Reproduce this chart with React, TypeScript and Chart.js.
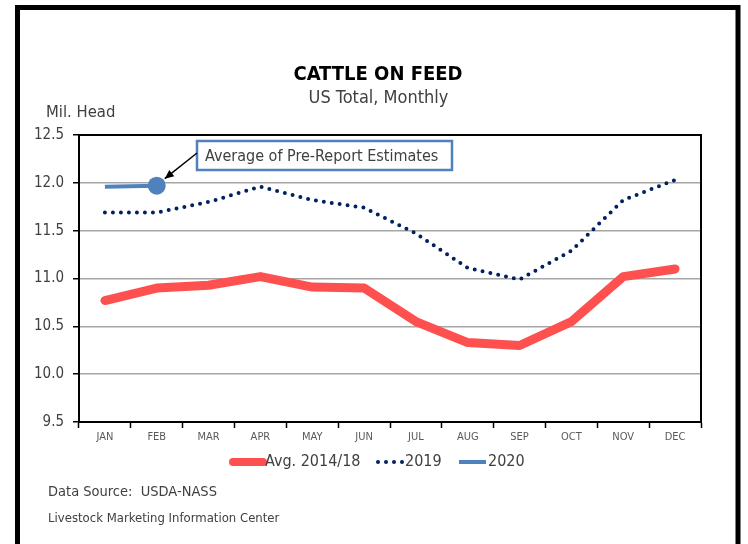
import React, { useEffect, useRef } from "react";
import { Chart, registerables } from "chart.js";

Chart.register(...registerables);

const months = ["JAN", "FEB", "MAR", "APR", "MAY", "JUN", "JUL", "AUG", "SEP", "OCT", "NOV", "DEC"];
const avg1418 = [10.77, 10.9, 10.93, 11.02, 10.91, 10.9, 10.55, 10.33, 10.3, 10.55, 11.02, 11.1];
const y2019 = [11.69, 11.69, 11.8, 11.96, 11.82, 11.74, 11.47, 11.11, 10.99, 11.29, 11.82, 12.03];
const y2020 = [11.96, 11.97, null, null, null, null, null, null, null, null, null, null];
const seriesNames = ["Avg. 2014/18", "2019", "2020"];
const titleText = "CATTLE ON FEED";
const subtitleText = "US Total, Monthly";
const unitText = "Mil. Head";
const annotationText = "Average of Pre-Report Estimates";
const sourceText = "Data Source:  USDA-NASS";
const creditText = "Livestock Marketing Information Center";

const FONT = "'Liberation Sans Narrow', 'Arial Narrow', 'DejaVu Sans Condensed', sans-serif";
const TXT = "#404040";

const extrasPlugin = {
  id: "extras",
  afterDraw(chart: any) {
    const ctx = chart.ctx;
    const ca = chart.chartArea;
    ctx.save();
    // plot frame top & right
    ctx.strokeStyle = "#000";
    ctx.lineWidth = 2;
    ctx.beginPath();
    ctx.moveTo(ca.left, ca.top);
    ctx.lineTo(ca.right, ca.top);
    ctx.lineTo(ca.right, ca.bottom);
    ctx.stroke();

    // outer frame
    ctx.lineWidth = 5;
    ctx.strokeRect(17.5, 7.5, 720.5, 600);

    // titles
    ctx.fillStyle = "#000";
    ctx.textAlign = "center";
    ctx.textBaseline = "middle";
    ctx.font = `bold 20px ${FONT}`;
    ctx.fillText(titleText, 378, 75);
    ctx.fillStyle = TXT;
    ctx.font = `18px ${FONT}`;
    ctx.fillText(subtitleText, 378.5, 98);
    ctx.textAlign = "left";
    ctx.font = `16.5px ${FONT}`;
    ctx.fillText(unitText, 46, 113);

    // footer
    ctx.font = `14.5px ${FONT}`;
    ctx.fillText(sourceText, 48, 492);
    ctx.font = `13px ${FONT}`;
    ctx.fillText(creditText, 48, 519);

    // legend
    const ds = chart.data.datasets;
    const items = [
      { sx: 233, ex: 263, tx: 265 },
      { sx: 378, ex: 404, tx: 405 },
      { sx: 459, ex: 486, tx: 488 },
    ];
    const ly = 462;
    ctx.font = `16px ${FONT}`;
    items.forEach((it, i) => {
      const d = ds[i];
      ctx.save();
      ctx.strokeStyle = d.borderColor;
      ctx.lineWidth = i === 0 ? 8 : d.borderWidth;
      ctx.lineCap = i === 0 ? "round" : d.borderCapStyle || "butt";
      ctx.setLineDash(d.borderDash || []);
      ctx.beginPath();
      ctx.moveTo(it.sx, ly);
      ctx.lineTo(it.ex, ly);
      ctx.stroke();
      ctx.restore();
      ctx.fillStyle = TXT;
      ctx.fillText(d.label, it.tx, ly);
    });

    // annotation box + arrow
    const bx = 197, by = 141, bw = 255, bh = 29;
    ctx.fillStyle = "#fff";
    ctx.fillRect(bx, by, bw, bh);
    ctx.strokeStyle = "#4F81BD";
    ctx.lineWidth = 2.5;
    ctx.strokeRect(bx, by, bw, bh);
    ctx.fillStyle = TXT;
    ctx.font = `16px ${FONT}`;
    ctx.fillText(annotationText, bx + 8, by + bh / 2 + 1);

    const xs = chart.scales.x;
    const ys = chart.scales.y;
    const px = xs.getPixelForValue(1);
    const py = ys.getPixelForValue(y2020[1] as number);
    const sx = bx, sy = by + 12;
    const ex = px + 8, ey = py - 7;
    ctx.strokeStyle = "#000";
    ctx.fillStyle = "#000";
    ctx.lineWidth = 1.5;
    ctx.beginPath();
    ctx.moveTo(sx, sy);
    ctx.lineTo(ex, ey);
    ctx.stroke();
    const ang = Math.atan2(ey - sy, ex - sx);
    const L = 9, W = 4;
    ctx.beginPath();
    ctx.moveTo(ex, ey);
    ctx.lineTo(ex - L * Math.cos(ang) + W * Math.sin(ang), ey - L * Math.sin(ang) - W * Math.cos(ang));
    ctx.lineTo(ex - L * Math.cos(ang) - W * Math.sin(ang), ey - L * Math.sin(ang) + W * Math.cos(ang));
    ctx.closePath();
    ctx.fill();
    ctx.restore();
  },
};

export default function App() {
  const ref = useRef<HTMLCanvasElement>(null);
  useEffect(() => {
    if (!ref.current) return;
    const chart = new Chart(ref.current, {
      type: "line",
      data: {
        labels: months,
        datasets: [
          {
            label: seriesNames[0],
            data: avg1418,
            borderColor: "#FF5050",
            backgroundColor: "#FF5050",
            borderWidth: 9,
            borderJoinStyle: "round",
            borderCapStyle: "round",
            pointRadius: 0,
            tension: 0,
          },
          {
            label: seriesNames[1],
            data: y2019,
            borderColor: "#002060",
            backgroundColor: "#002060",
            borderWidth: 4,
            borderDash: [0, 8],
            borderCapStyle: "round",
            pointRadius: 0,
            tension: 0,
          },
          {
            label: seriesNames[2],
            data: y2020,
            borderColor: "#4F81BD",
            backgroundColor: "#4F81BD",
            borderWidth: 4,
            pointRadius: [0, 9],
            pointHoverRadius: [0, 9],
            pointBorderWidth: 0,
            pointBackgroundColor: "#4F81BD",
            tension: 0,
          },
        ],
      },
      options: {
        responsive: false,
        devicePixelRatio: 1,
        animation: false,
        events: [],
        layout: { padding: { left: 0, top: 135, right: 47, bottom: 92 } },
        plugins: { legend: { display: false }, title: { display: false }, tooltip: { enabled: false } },
        scales: {
          x: {
            type: "category",
            offset: true,
            afterFit: (s: any) => { s.height = 30; },
            grid: { display: true, drawOnChartArea: false, offset: true, tickLength: 6, tickColor: "#000", tickWidth: 1.5 },
            border: { color: "#000", width: 2 },
            ticks: { color: "#595959", font: { family: FONT, size: 11 }, padding: 3, maxRotation: 0, autoSkip: false },
          },
          y: {
            min: 9.5,
            max: 12.5,
            afterFit: (s: any) => { s.width = 79; },
            grid: { color: "#A6A6A6", lineWidth: 1.5, tickLength: 6, tickColor: "#000", tickWidth: 1.5 },
            border: { color: "#000", width: 2 },
            ticks: {
              stepSize: 0.5,
              color: TXT,
              font: { family: FONT, size: 15 },
              padding: 9,
              callback: (v: any) => Number(v).toFixed(1),
            },
          },
        },
      },
      plugins: [extrasPlugin],
    });
    return () => chart.destroy();
  }, []);
  return (
    <div style={{ position: "absolute", left: 0, top: 0, width: 748, height: 544, background: "#fff" }}>
      <canvas ref={ref} width={748} height={544} style={{ display: "block", width: 748, height: 544 }} />
    </div>
  );
}
